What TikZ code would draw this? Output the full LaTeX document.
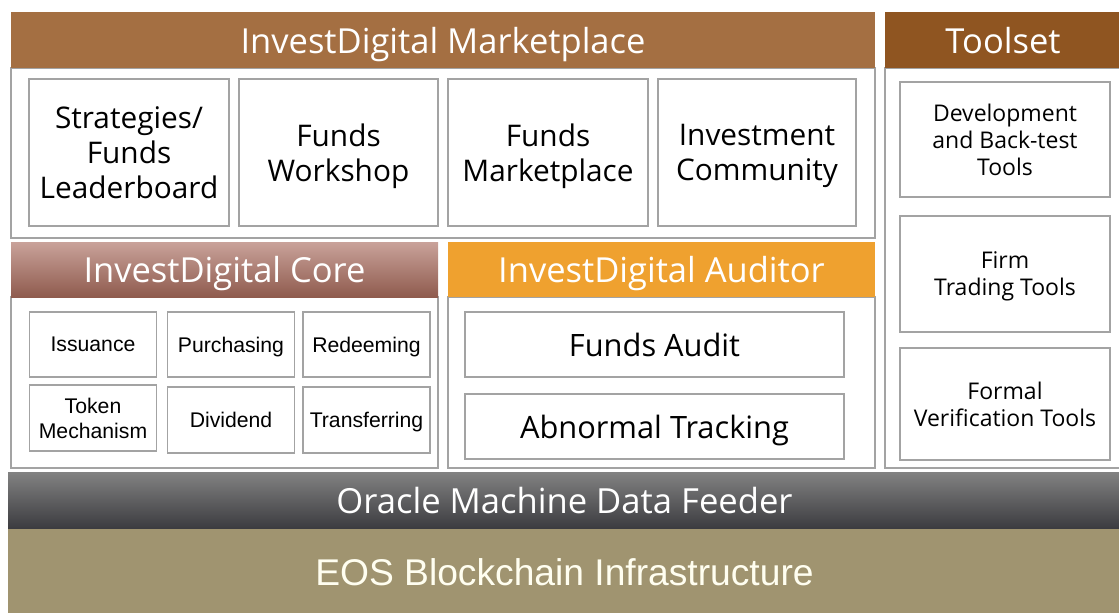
\documentclass[tikz,border=0pt]{standalone}
\usepackage{fontspec}
\setmainfont{Open Sans}
\newfontfamily\arialfont{Liberation Sans}
\definecolor{mktbrown}{HTML}{A46F42}
\definecolor{toolbrown}{HTML}{8F5521}
\definecolor{coretop}{HTML}{C9A29A}
\definecolor{corebot}{HTML}{8F5B4E}
\definecolor{auditorange}{HTML}{EFA12F}
\definecolor{oracletop}{HTML}{828282}
\definecolor{oraclebot}{HTML}{3C3C40}
\definecolor{eostan}{HTML}{A09470}
\definecolor{boxgray}{HTML}{A3A3A3}
\begin{document}
\begin{tikzpicture}[x=1pt,y=-1pt,
  header/.style={rectangle, inner sep=0pt, text depth=0pt, text=white, font=\fontsize{34.5}{40}\selectfont},
  panel/.style={rectangle, inner sep=0pt, draw=boxgray, line width=2pt, fill=white},
  bigitem/.style={rectangle, inner sep=0pt, text depth=0pt, draw=boxgray, line width=1.3pt, align=center, font=\fontsize{29.8}{35}\selectfont},
  toolitem/.style={rectangle, inner sep=0pt, text depth=0pt, draw=boxgray, line width=1.3pt, align=center, font=\fontsize{23}{27}\selectfont},
  coreitem/.style={rectangle, inner sep=0pt, text depth=0pt, draw=boxgray, line width=1.3pt, align=center, minimum width=127pt, font=\arialfont\fontsize{21.2}{25}\selectfont}]
\useasboundingbox (0,0) rectangle (1119,613);

\node[panel, minimum width=864pt, minimum height=170pt] (mktpanel) at (443,153) {};
\node[header, fill=mktbrown, minimum width=864pt, minimum height=56pt] (mkt) at (443,40) {InvestDigital Marketplace};
\node[bigitem, minimum width=200pt, minimum height=147pt] (leader) at (129,152.5) {Strategies/\\Funds\\Leaderboard};
\node[bigitem, minimum width=199pt, minimum height=147pt] (workshop) at (338.5,152.5) {Funds\\Workshop};
\node[bigitem, minimum width=200pt, minimum height=147pt] (fundsmkt) at (548,152.5) {Funds\\Marketplace};
\node[bigitem, minimum width=198pt, minimum height=147pt] (community) at (757,152.5) {Investment\\Community};

\node[panel, minimum width=236pt, minimum height=400pt] (toolpanel) at (1003,268) {};
\node[header, fill=toolbrown, minimum width=236pt, minimum height=56pt] (tools) at (1003,40) {Toolset};
\node[toolitem, minimum width=210pt, minimum height=115pt] (devtools) at (1005,139.5) {Development\\and Back-test\\Tools};
\node[toolitem, minimum width=210pt, minimum height=116pt] (firmtools) at (1005,274) {Firm\\Trading Tools};
\node[toolitem, minimum width=210pt, minimum height=112pt] (formaltools) at (1005,404) {Formal\\Verification Tools};

\node[panel, minimum width=427pt, minimum height=171pt] (corepanel) at (224.5,382.5) {};
\node[header, top color=coretop, bottom color=corebot, minimum width=427pt, minimum height=55pt] (core) at (224.5,269.5) {InvestDigital Core};
\node[coreitem, minimum height=65pt] (issuance) at (93,344.5) {Issuance};
\node[coreitem, minimum height=65pt] (purchasing) at (231,344.5) {Purchasing};
\node[coreitem, minimum height=65pt] (redeeming) at (366.5,344.5) {Redeeming};
\node[coreitem, minimum height=66pt] (token) at (93,418) {Token\\Mechanism};
\node[coreitem, minimum height=66pt] (dividend) at (231,420) {Dividend};
\node[coreitem, minimum height=66pt] (transfer) at (366.5,420) {Transferring};

\node[panel, minimum width=427pt, minimum height=171pt] (auditpanel) at (661.5,382.5) {};
\node[header, fill=auditorange, minimum width=427pt, minimum height=55pt] (auditor) at (661.5,269.5) {InvestDigital Auditor};
\node[bigitem, minimum width=379pt, minimum height=65pt, font=\fontsize{30.8}{36}\selectfont] (fundsaudit) at (654.5,344.5) {Funds Audit};
\node[bigitem, minimum width=379pt, minimum height=65pt, font=\fontsize{30.8}{36}\selectfont] (tracking) at (654.5,426.5) {Abnormal Tracking};

\node[header, top color=oracletop, bottom color=oraclebot, minimum width=1113pt, minimum height=56pt, font=\fontsize{34.6}{40}\selectfont] (oracle) at (564.5,500) {Oracle Machine Data Feeder};
\node[header, fill=eostan, minimum width=1113pt, minimum height=86pt, text=white!94!yellow, font=\arialfont\fontsize{37.2}{44}\selectfont] (eos) at (564.5,572) {EOS Blockchain Infrastructure};
\end{tikzpicture}
\end{document}
